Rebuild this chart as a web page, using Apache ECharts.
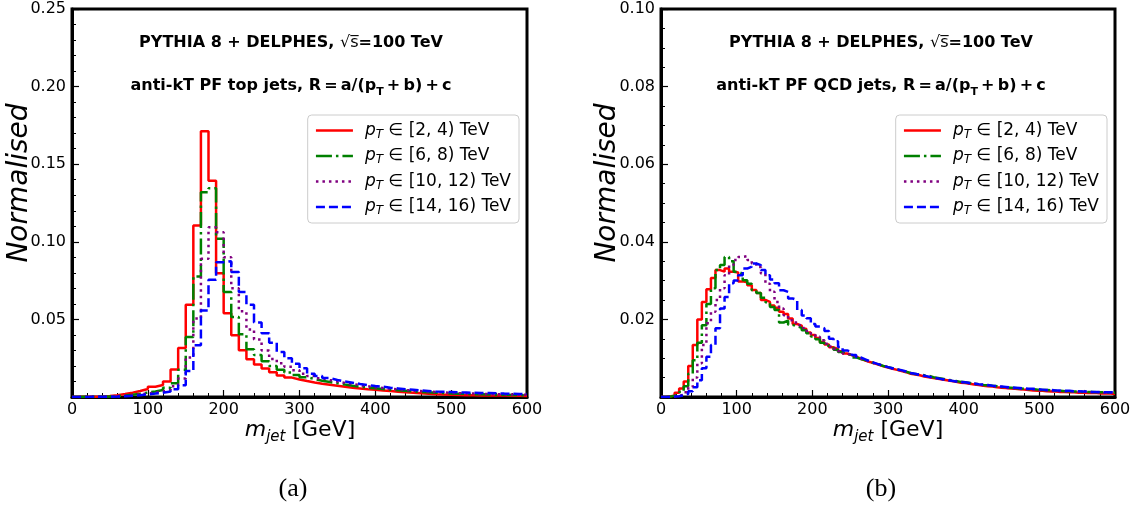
<!DOCTYPE html>
<html><head><meta charset="utf-8">
<script src="https://cdn.jsdelivr.net/npm/echarts@6/dist/echarts.min.js"></script>
<style>html,body{margin:0;padding:0;background:#fff}#c{width:1137px;height:506px}</style>
</head><body><div id="c"></div>
<script>
// ---------- data ----------
const seriesNames = ['pt_2_4', 'pt_6_8', 'pt_10_12', 'pt_14_16'];
const legendRanges = ['[2, 4)', '[6, 8)', '[10, 12)', '[14, 16)'];
const seriesColors = ['#ff0000', '#008000', '#800080', '#0000ff'];
const xTickValues = [0, 100, 200, 300, 400, 500, 600];
const topBinWidth = 10;   // GeV
const qcdBinWidth = 6;    // GeV

const topPt2_4 = [0, 0.0001, 0.0002, 0.0004, 0.0007, 0.0012, 0.0019, 0.0028, 0.0039, 0.0051,
 0.0066, 0.0077, 0.0100, 0.0177, 0.0315, 0.0595, 0.1105, 0.1712, 0.1394, 0.0798,
 0.0540, 0.0398, 0.0302, 0.0243, 0.0209, 0.0184, 0.0160, 0.0138, 0.0125, 0.0113,
 0.0103, 0.0094, 0.0086, 0.0079, 0.0072, 0.0066, 0.0060, 0.0055, 0.0050, 0.0046,
 0.0042, 0.0038, 0.0034, 0.0030, 0.0027, 0.0024, 0.0021, 0.0018, 0.0016, 0.0015,
 0.0013, 0.0012, 0.0011, 0.0010, 0.0010, 0.0009, 0.0009, 0.0008, 0.0008, 0.0007];
const topPt6_8 = [0, 0.0001, 0.0001, 0.0002, 0.0004, 0.0006, 0.0010, 0.0015, 0.0021, 0.0028,
 0.0036, 0.0045, 0.0060, 0.0088, 0.0176, 0.0386, 0.0777, 0.1320, 0.1345, 0.1020,
 0.0676, 0.0515, 0.0405, 0.0308, 0.0270, 0.0230, 0.0200, 0.0176, 0.0158, 0.0142,
 0.0128, 0.0116, 0.0105, 0.0096, 0.0088, 0.0080, 0.0073, 0.0067, 0.0061, 0.0056,
 0.0051, 0.0047, 0.0043, 0.0040, 0.0036, 0.0033, 0.0030, 0.0028, 0.0025, 0.0023,
 0.0021, 0.0020, 0.0018, 0.0017, 0.0016, 0.0015, 0.0014, 0.0013, 0.0012, 0.0012];
const topPt10_12 = [0, 0, 0.0001, 0.0002, 0.0003, 0.0005, 0.0008, 0.0012, 0.0017, 0.0023,
 0.0029, 0.0036, 0.0046, 0.0070, 0.0120, 0.0255, 0.0505, 0.0890, 0.1094, 0.1062,
 0.0900, 0.0700, 0.0552, 0.0435, 0.0370, 0.0300, 0.0245, 0.0218, 0.0195, 0.0172,
 0.0150, 0.0135, 0.0121, 0.0110, 0.0100, 0.0091, 0.0083, 0.0076, 0.0069, 0.0063,
 0.0058, 0.0053, 0.0049, 0.0045, 0.0041, 0.0038, 0.0035, 0.0032, 0.0030, 0.0027,
 0.0025, 0.0023, 0.0022, 0.0020, 0.0019, 0.0018, 0.0017, 0.0016, 0.0015, 0.0014];
const topPt14_16 = [0, 0, 0.0001, 0.0001, 0.0002, 0.0003, 0.0005, 0.0008, 0.0012, 0.0017,
 0.0022, 0.0028, 0.0036, 0.0050, 0.0075, 0.0167, 0.0333, 0.0558, 0.0755, 0.0869,
 0.0875, 0.0805, 0.0676, 0.0594, 0.0480, 0.0410, 0.0350, 0.0290, 0.0250, 0.0215,
 0.0185, 0.0150, 0.0135, 0.0122, 0.0110, 0.0100, 0.0092, 0.0084, 0.0077, 0.0071,
 0.0066, 0.0060, 0.0055, 0.0050, 0.0046, 0.0042, 0.0039, 0.0036, 0.0034, 0.0032,
 0.0030, 0.0029, 0.0027, 0.0026, 0.0025, 0.0024, 0.0022, 0.0021, 0.0020, 0.0019];

const qcdPt2_4 = [0, 0.0001, 0.0005, 0.0011, 0.0022, 0.0040, 0.0080, 0.0134, 0.0200, 0.0245,
 0.0278, 0.0307, 0.0327, 0.0323, 0.0331, 0.0323, 0.0321, 0.0298, 0.0296, 0.0288,
 0.0276, 0.0268, 0.0250, 0.0245, 0.0236, 0.0230, 0.0220, 0.0214, 0.0202, 0.0188,
 0.0184, 0.0176, 0.0166, 0.0160, 0.0152, 0.0142, 0.0135, 0.0128, 0.0124, 0.0118,
 0.0112, 0.0108, 0.0104, 0.0099, 0.0094, 0.0090, 0.0087, 0.0083, 0.0079, 0.0076,
 0.0073, 0.0070, 0.0067, 0.0064, 0.0060, 0.0058, 0.0056, 0.0053, 0.0051, 0.0049,
 0.0047, 0.0045, 0.0043, 0.0041, 0.0039, 0.0037, 0.0036, 0.0034, 0.0032, 0.0031,
 0.0029, 0.0028, 0.0027, 0.0025, 0.0024, 0.0023, 0.0022, 0.0021, 0.0020, 0.0019,
 0.0018, 0.0017, 0.0016, 0.0016, 0.0015, 0.0014, 0.0014, 0.0013, 0.0013, 0.0012,
 0.0012, 0.0011, 0.0011, 0.0010, 0.0010, 0.0010, 0.0009, 0.0009, 0.0009, 0.0008];
const qcdPt6_8 = [0, 0.0001, 0.0003, 0.0007, 0.0013, 0.0028, 0.0060, 0.0095, 0.0140, 0.0185,
 0.0240, 0.0280, 0.0327, 0.0340, 0.0361, 0.0350, 0.0323, 0.0318, 0.0301, 0.0292,
 0.0275, 0.0268, 0.0256, 0.0244, 0.0232, 0.0224, 0.0192, 0.0197, 0.0186, 0.0182,
 0.0178, 0.0172, 0.0164, 0.0156, 0.0149, 0.0140, 0.0132, 0.0128, 0.0122, 0.0116,
 0.0111, 0.0108, 0.0102, 0.0098, 0.0095, 0.0091, 0.0086, 0.0084, 0.0080, 0.0077,
 0.0074, 0.0071, 0.0068, 0.0065, 0.0062, 0.0059, 0.0058, 0.0056, 0.0055, 0.0051,
 0.0049, 0.0047, 0.0045, 0.0043, 0.0041, 0.0039, 0.0038, 0.0036, 0.0034, 0.0033,
 0.0031, 0.0030, 0.0029, 0.0028, 0.0026, 0.0025, 0.0024, 0.0023, 0.0022, 0.0021,
 0.0020, 0.0020, 0.0019, 0.0018, 0.0018, 0.0017, 0.0016, 0.0016, 0.0015, 0.0015,
 0.0014, 0.0014, 0.0013, 0.0013, 0.0013, 0.0012, 0.0012, 0.0012, 0.0011, 0.0011];
const qcdPt10_12 = [0, 0, 0.0001, 0.0003, 0.0006, 0.0012, 0.0025, 0.0050, 0.0087, 0.0134,
 0.0190, 0.0220, 0.0250, 0.0280, 0.0314, 0.0340, 0.0353, 0.0361, 0.0363, 0.0353,
 0.0344, 0.0335, 0.0318, 0.0292, 0.0271, 0.0245, 0.0228, 0.0211, 0.0198, 0.0192,
 0.0185, 0.0178, 0.0170, 0.0163, 0.0155, 0.0146, 0.0137, 0.0130, 0.0124, 0.0118,
 0.0112, 0.0109, 0.0104, 0.0099, 0.0095, 0.0091, 0.0087, 0.0084, 0.0080, 0.0077,
 0.0073, 0.0071, 0.0068, 0.0065, 0.0061, 0.0059, 0.0057, 0.0054, 0.0052, 0.0050,
 0.0048, 0.0046, 0.0044, 0.0042, 0.0040, 0.0038, 0.0037, 0.0035, 0.0034, 0.0032,
 0.0031, 0.0029, 0.0028, 0.0027, 0.0026, 0.0024, 0.0023, 0.0022, 0.0021, 0.0020,
 0.0020, 0.0019, 0.0018, 0.0017, 0.0017, 0.0016, 0.0015, 0.0015, 0.0014, 0.0014,
 0.0014, 0.0013, 0.0016, 0.0012, 0.0012, 0.0012, 0.0011, 0.0011, 0.0011, 0.0010];
const qcdPt14_16 = [0, 0, 0.0001, 0.0002, 0.0004, 0.0008, 0.0015, 0.0025, 0.0043, 0.0074,
 0.0104, 0.0134, 0.0177, 0.0228, 0.0258, 0.0293, 0.0300, 0.0314, 0.0331, 0.0336,
 0.0344, 0.0340, 0.0327, 0.0314, 0.0303, 0.0293, 0.0275, 0.0271, 0.0254, 0.0250,
 0.0224, 0.0210, 0.0203, 0.0188, 0.0182, 0.0177, 0.0170, 0.0150, 0.0144, 0.0129,
 0.0120, 0.0116, 0.0108, 0.0102, 0.0097, 0.0092, 0.0088, 0.0084, 0.0080, 0.0077,
 0.0074, 0.0071, 0.0069, 0.0066, 0.0062, 0.0060, 0.0057, 0.0055, 0.0052, 0.0050,
 0.0048, 0.0046, 0.0044, 0.0042, 0.0040, 0.0039, 0.0038, 0.0036, 0.0035, 0.0033,
 0.0032, 0.0031, 0.0029, 0.0028, 0.0027, 0.0026, 0.0025, 0.0024, 0.0023, 0.0022,
 0.0021, 0.0021, 0.0020, 0.0019, 0.0018, 0.0018, 0.0017, 0.0017, 0.0016, 0.0016,
 0.0015, 0.0015, 0.0014, 0.0014, 0.0013, 0.0013, 0.0013, 0.0012, 0.0012, 0.0012];

// ---------- chart ----------
const FONT = 'DejaVu Sans';
const dashes = ['solid', [16, 4, 2.5, 4], [2.5, 4], [9, 4]];

function stepPoints(values, width) {
  const pts = values.map((v, i) => [i * width, v]);
  pts.push([values.length * width, values[values.length - 1]]);
  return pts;
}

const topSets = [topPt2_4, topPt6_8, topPt10_12, topPt14_16];
const qcdSets = [qcdPt2_4, qcdPt6_8, qcdPt10_12, qcdPt14_16];

function mkSeries(k, vals, bw, idx) {
  return {
    type: 'line', name: seriesNames[k], xAxisIndex: idx, yAxisIndex: idx,
    data: stepPoints(vals, bw), step: 'end', symbol: 'none', showSymbol: false,
    lineStyle: { color: seriesColors[k], width: 2.5, type: dashes[k], cap: 'butt' },
    itemStyle: { color: seriesColors[k] }, animation: false, silent: true
  };
}
const series = [];
topSets.forEach((vals, k) => series.push(mkSeries(k, vals, topBinWidth, 0)));
qcdSets.forEach((vals, k) => series.push(mkSeries(k, vals, qcdBinWidth, 1)));

function xAxis(gi) {
  return {
    type: 'value', gridIndex: gi, min: 0, max: 600, interval: 100,
    axisLine: { show: true, lineStyle: { color: '#000', width: 3 } },
    axisTick: { show: true, inside: true, length: 7, lineStyle: { color: '#000', width: 1.2 } },
    minorTick: { show: true, splitNumber: 5, length: 4, lineStyle: { color: '#000', width: 1 } },
    axisLabel: { color: '#000', fontSize: 16, fontFamily: FONT, margin: 5,
      formatter: v => xTickValues.includes(v) ? String(v) : '' },
    splitLine: { show: false }
  };
}
function yAxis(gi, max, interval, minorSplit) {
  return {
    type: 'value', gridIndex: gi, min: 0, max: max, interval: interval,
    axisLine: { show: true, lineStyle: { color: '#000', width: 3 } },
    axisTick: { show: true, inside: true, length: 7, lineStyle: { color: '#000', width: 1.2 } },
    minorTick: { show: true, splitNumber: minorSplit, length: 4, lineStyle: { color: '#000', width: 1 } },
    axisLabel: { color: '#000', fontSize: 16, fontFamily: FONT, margin: 6,
      formatter: v => v === 0 ? '' : v.toFixed(2) },
    splitLine: { show: false }
  };
}

const legendRich = {
  p: { fontFamily: FONT, fontStyle: 'italic', fontSize: 17, lineHeight: 20, color: '#000', padding: [0, 0, 0, 7] },
  s: { fontFamily: FONT, fontStyle: 'italic', fontSize: 12, lineHeight: 13, verticalAlign: 'bottom', color: '#000' },
  t: { fontFamily: FONT, fontSize: 17, lineHeight: 20, color: '#000' }
};
function legend(right) {
  return {
    data: seriesNames, orient: 'vertical', right: right, top: 115,
    itemWidth: 37, itemHeight: 14, itemGap: 7, padding: [7, 8, 6, 7],
    borderColor: '#cccccc', borderWidth: 1, borderRadius: 4,
    backgroundColor: 'rgba(255,255,255,0.85)', selectedMode: false,
    lineStyle: { width: 2.5 },
    itemStyle: { opacity: 0, color: 'transparent', borderColor: 'transparent', borderWidth: 0 },
    formatter: name => '{p|p}{s|T}{t| \u2208 ' + legendRanges[seriesNames.indexOf(name)] + ' TeV}',
    textStyle: { fontFamily: FONT, fontSize: 17, color: '#000', rich: legendRich }
  };
}

const titleRich = {
  b: { fontFamily: FONT, fontWeight: 'bold', fontSize: 16, lineHeight: 24, color: '#000' },
  n: { fontFamily: FONT, fontSize: 16, lineHeight: 24, color: '#000' },
  bs: { fontFamily: FONT, fontWeight: 'bold', fontSize: 11, lineHeight: 14, verticalAlign: 'bottom', color: '#000' }
};
const axisRich = {
  m: { fontFamily: FONT, fontStyle: 'italic', fontSize: 22, lineHeight: 30, color: '#000' },
  j: { fontFamily: FONT, fontStyle: 'italic', fontSize: 15, lineHeight: 18, verticalAlign: 'bottom', color: '#000' },
  g: { fontFamily: FONT, fontSize: 22, lineHeight: 30, color: '#000' }
};

function txt(x, y, text, rich, extra) {
  return Object.assign({
    type: 'text', x: x, y: y, silent: true,
    style: { text: text, rich: rich, align: 'center', verticalAlign: 'middle', fill: '#000' }
  }, extra || {});
}
function plain(x, y, text, family, size, italic, rot) {
  return {
    type: 'text', x: x, y: y, silent: true, rotation: rot || 0,
    style: { text: text, align: 'center', verticalAlign: 'middle', fill: '#000',
      fontFamily: family, fontSize: size, fontStyle: italic ? 'italic' : 'normal' }
  };
}
const TS = '\u2009';
const mathPart = '{b|R' + TS + '=' + TS + 'a/(p}{bs|T}{b|' + TS + '+' + TS + 'b)' + TS + '+' + TS + 'c}';

const graphics = [
  txt(291, 43, '{b|PYTHIA 8 + DELPHES, }{n|\u221As\u0305}{b|=100 TeV}', titleRich),
  txt(291, 86, '{b|anti-kT PF top jets, }' + mathPart, titleRich),
  txt(881, 43, '{b|PYTHIA 8 + DELPHES, }{n|\u221As\u0305}{b|=100 TeV}', titleRich),
  txt(881, 86, '{b|anti-kT PF QCD jets, }' + mathPart, titleRich),
  txt(300, 430, '{m|m}{j|jet}{g| [GeV]}', axisRich),
  txt(888, 430, '{m|m}{j|jet}{g| [GeV]}', axisRich),
  plain(20, 183, 'Normalised', FONT, 28, true, Math.PI / 2),
  plain(608, 183, 'Normalised', FONT, 28, true, Math.PI / 2),
  plain(293, 489, '(a)', 'Liberation Serif', 26, false),
  plain(881, 489, '(b)', 'Liberation Serif', 26, false)
];

const chart = echarts.init(document.getElementById('c'), null, { renderer: 'canvas' });
chart.setOption({
  animation: false,
  backgroundColor: '#fff',
  grid: [
    { left: 72, top: 9, width: 455, height: 388, show: true, borderColor: '#000', borderWidth: 3, backgroundColor: 'transparent' },
    { left: 661, top: 9, width: 454, height: 388, show: true, borderColor: '#000', borderWidth: 3, backgroundColor: 'transparent' }
  ],
  xAxis: [xAxis(0), xAxis(1)],
  yAxis: [yAxis(0, 0.25, 0.05, 5), yAxis(1, 0.10, 0.02, 4)],
  legend: [legend(618), legend(30)],
  series: series,
  graphic: graphics
});
</script>
</body></html>
